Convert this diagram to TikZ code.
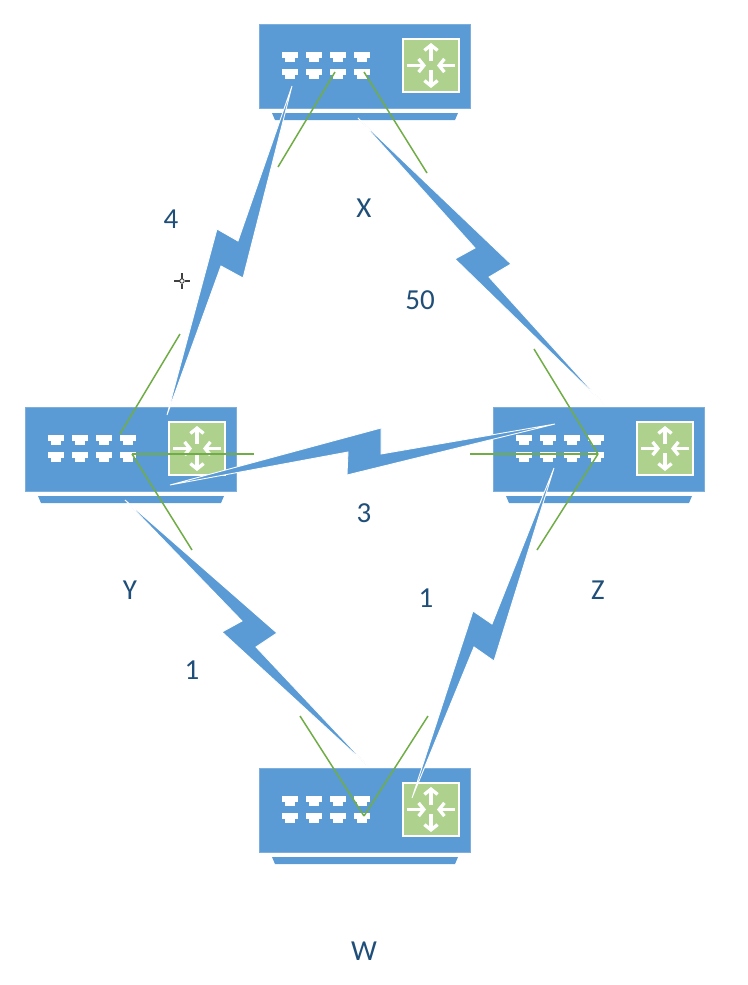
\documentclass[tikz,border=0pt]{standalone}
\usepackage{fontspec}
\setmainfont{Carlito}
\usetikzlibrary{arrows.meta}
\definecolor{boxblue}{RGB}{91,155,213}
\definecolor{edgeblue}{RGB}{125,175,222}
\definecolor{boxgreen}{RGB}{174,210,141}
\definecolor{wiregreen}{RGB}{112,173,71}
\definecolor{labelblue}{RGB}{31,78,121}
\definecolor{cursorgray}{RGB}{64,64,64}
\tikzset{
    boltshape/.style={
        fill=boxblue,
        draw=white,
        line width=0.5pt,
        line join=miter
    },
    wireline/.style={
        line width=0.85pt,
        wiregreen
    },
    whitearrow/.style={
        line width=1.9pt,
        white,
        -{Straight Barb[length=3pt, width=7.5pt]}
    },
    costlabel/.style={
        labelblue,
        font=\fontsize{16.5}{18}\selectfont
    },
    routerbox/.pic={
        \draw[fill=boxblue,draw=edgeblue,line width=0.5pt] (0,0) rectangle (211,84);
        \fill[boxblue] (13,89) -- (199,89) -- (196,96) -- (16,96) -- cycle;
        \foreach \px in {23,47,71,95} {
            \foreach \py in {28,45} {
                \fill[white] (\px,\py) rectangle +(16,6);
                \fill[white] (\px+3,\py+6) rectangle +(10,4);
            }
        }
        \draw[fill=boxgreen,draw=white,line width=0.6pt] (144,15) rectangle (200,68);
        \draw[whitearrow] (172,37) -- (172,19);
        \draw[whitearrow] (172,46) -- (172,64);
        \draw[whitearrow] (148,41.5) -- (167,41.5);
        \draw[whitearrow] (196,41.5) -- (178,41.5);
    }
}
\begin{document}
\begin{tikzpicture}[x=0.02cm,y=-0.02cm]
    \useasboundingbox (0,0) rectangle (748,985);

    \pic at (259,24) {routerbox};
    \pic at (25,407) {routerbox};
    \pic at (493,407) {routerbox};
    \pic at (259,768) {routerbox};

    % lightning links
    \draw[boltshape] (292,86) -- (238,241) -- (217,229) -- (167,415) -- (221,266) -- (243,278) -- cycle;
    \draw[boltshape] (358,118) -- (511,264) -- (489,277) -- (603,403) -- (455,259) -- (475,248) -- cycle;
    \draw[boltshape] (170,485) -- (381,428) -- (381,454) -- (555,424) -- (347,475) -- (348,452) -- cycle;
    \draw[boltshape] (125,500) -- (277,633) -- (256,647) -- (369,767) -- (222,632) -- (242,621) -- cycle;
    \draw[boltshape] (554,468) -- (492,624) -- (473,611) -- (412,798) -- (474,647) -- (494,661) -- cycle;

    \coordinate (xa) at (335,72);
    \coordinate (xb) at (364,72);
    \coordinate (ya) at (120,434);
    \coordinate (yb) at (132,454);
    \coordinate (za) at (598,454);
    \coordinate (wa) at (364,816);

    \coordinate (xa1) at (278,167);
    \coordinate (xb1) at (427,173);
    \coordinate (ya1) at (180,334);
    \coordinate (yb1) at (254,454);
    \coordinate (yb2) at (192,550);
    \coordinate (za1) at (470,454);
    \coordinate (za2) at (534,349);
    \coordinate (za3) at (537,550);
    \coordinate (wa1) at (300,716);
    \coordinate (wa2) at (428,716);

    \draw[wireline] (xa) to (xa1);
    \draw[wireline] (xb) to (xb1);
    \draw[wireline] (ya) to (ya1);
    \draw[wireline] (yb) to (yb1);
    \draw[wireline] (yb) to (yb2);
    \draw[wireline] (za) to (za1);
    \draw[wireline] (za) to (za2);
    \draw[wireline] (za) to (za3);
    \draw[wireline] (wa) to (wa1);
    \draw[wireline] (wa) to (wa2);

    \node[costlabel] (labx) at (364,208) {X};
    \node[costlabel] (laby) at (130,590) {Y};
    \node[costlabel] (labz) at (598,590) {Z};
    \node[costlabel] (labw) at (364,951) {W};
    \node[costlabel] (costxy) at (171,219) {4};
    \node[costlabel] (costxz) at (420,300) {50};
    \node[costlabel] (costyz) at (364,513) {3};
    \node[costlabel] (costyw) at (192,670) {1};
    \node[costlabel] (costzw) at (426,598) {1};

    % pointer mark
    \draw[cursorgray,line width=0.8pt] (174,281) -- (179.5,281) (184.5,281) -- (190,281) (182,273) -- (182,278.5) (182,283.5) -- (182,289);
    \draw[cursorgray,line width=0.5pt] (182,281) circle (2.2);
\end{tikzpicture}
\end{document}
